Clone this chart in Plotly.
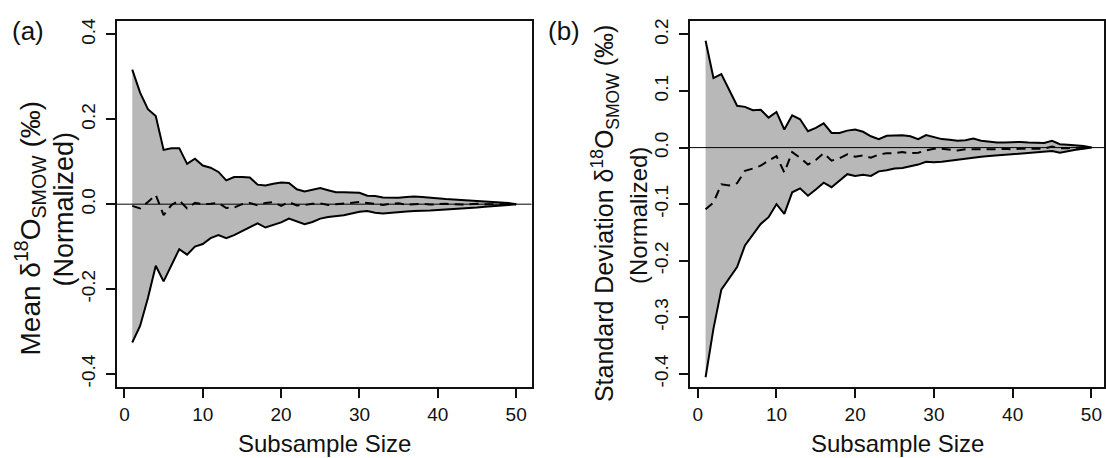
import plotly.graph_objects as go

W, H = 1106, 458

subsample = list(range(1, 51))

# Panel (a): mean, normalized
mean_upper = [0.317, 0.263, 0.224, 0.208, 0.128, 0.132, 0.132, 0.095, 0.107, 0.091,
              0.086, 0.076, 0.056, 0.064, 0.064, 0.063, 0.046, 0.044, 0.048, 0.051,
              0.050, 0.035, 0.030, 0.034, 0.038, 0.033, 0.028, 0.028, 0.028, 0.027,
              0.020, 0.019, 0.016, 0.015, 0.015, 0.017, 0.018, 0.017, 0.015, 0.014,
              0.012, 0.011, 0.010, 0.008, 0.007, 0.006, 0.005, 0.004, 0.003, 0.0]
mean_lower = [-0.326, -0.287, -0.221, -0.145, -0.182, -0.143, -0.106, -0.119, -0.100, -0.094,
              -0.080, -0.073, -0.080, -0.073, -0.063, -0.055, -0.045, -0.055, -0.049, -0.043,
              -0.034, -0.041, -0.047, -0.042, -0.034, -0.030, -0.028, -0.026, -0.022, -0.018,
              -0.016, -0.020, -0.022, -0.020, -0.019, -0.017, -0.016, -0.016, -0.015, -0.014,
              -0.013, -0.012, -0.010, -0.009, -0.008, -0.006, -0.005, -0.003, -0.002, 0.0]
mean_mid = [-0.004, -0.010, 0.005, 0.022, -0.026, -0.002, 0.009, -0.010, 0.003, 0.000,
            0.001, 0.003, -0.009, -0.008, 0.000, 0.003, -0.003, 0.003, 0.005, -0.004,
            0.005, -0.003, -0.002, 0.001, 0.002, -0.002, 0.000, 0.002, 0.004, 0.005,
            0.003, 0.000, -0.002, 0.001, 0.002, -0.001, 0.000, 0.001, -0.001, 0.000,
            0.001, 0.000, -0.001, 0.000, 0.001, 0.000, 0.000, 0.000, 0.000, 0.0]

# Panel (b): standard deviation, normalized
sd_upper = [0.189, 0.123, 0.130, 0.103, 0.074, 0.072, 0.066, 0.067, 0.053, 0.063,
            0.032, 0.057, 0.050, 0.029, 0.035, 0.043, 0.026, 0.026, 0.030, 0.032,
            0.028, 0.020, 0.015, 0.021, 0.021, 0.022, 0.020, 0.015, 0.022, 0.018,
            0.015, 0.014, 0.012, 0.013, 0.016, 0.012, 0.010, 0.009, 0.009, 0.010,
            0.010, 0.009, 0.008, 0.008, 0.012, 0.006, 0.005, 0.004, 0.003, 0.0]
sd_lower = [-0.406, -0.320, -0.251, -0.232, -0.211, -0.173, -0.153, -0.135, -0.123, -0.100,
            -0.117, -0.079, -0.072, -0.085, -0.074, -0.062, -0.070, -0.058, -0.047, -0.050,
            -0.048, -0.050, -0.042, -0.040, -0.037, -0.036, -0.033, -0.030, -0.025, -0.026,
            -0.025, -0.023, -0.021, -0.020, -0.018, -0.016, -0.015, -0.014, -0.013, -0.012,
            -0.011, -0.010, -0.009, -0.008, -0.006, -0.009, -0.006, -0.004, -0.002, 0.0]
sd_mid = [-0.109, -0.097, -0.065, -0.067, -0.063, -0.041, -0.037, -0.032, -0.023, -0.015,
          -0.044, -0.008, -0.018, -0.030, -0.022, -0.010, -0.023, -0.019, -0.012, -0.016,
          -0.014, -0.018, -0.012, -0.010, -0.010, -0.008, -0.010, -0.009, -0.005, -0.002,
          -0.002, -0.004, -0.005, -0.003, -0.003, -0.004, -0.003, -0.003, -0.002, -0.003,
          -0.002, -0.002, -0.002, -0.002, 0.002, -0.001, -0.001, 0.0, 0.0, 0.0]

x_ticks = [0, 10, 20, 30, 40, 50]
ya_ticks = [-0.4, -0.2, 0.0, 0.2, 0.4]
ya_labels = ["-0.4", "-0.2", "0.0", "0.2", "0.4"]
yb_ticks = [-0.4, -0.3, -0.2, -0.1, 0.0, 0.1, 0.2]
yb_labels = ["-0.4", "-0.3", "-0.2", "-0.1", "0.0", "0.1", "0.2"]

FILL = "#b8b8b8"
FONT = "Liberation Sans, Arial, sans-serif"

fig = go.Figure()

def add_panel(xa, ya, upper, lower, mid):
    fig.add_trace(go.Scatter(
        x=subsample + subsample[::-1], y=upper + lower[::-1],
        fill="toself", fillcolor=FILL, line=dict(width=0), mode="lines",
        hoverinfo="skip", showlegend=False, xaxis=xa, yaxis=ya))
    for s in (upper, lower):
        fig.add_trace(go.Scatter(x=subsample, y=s, mode="lines",
                                 line=dict(color="black", width=2),
                                 showlegend=False, xaxis=xa, yaxis=ya))
    fig.add_trace(go.Scatter(x=subsample, y=mid, mode="lines",
                             line=dict(color="black", width=2, dash="9px,6px"),
                             showlegend=False, xaxis=xa, yaxis=ya))

add_panel("x", "y", mean_upper, mean_lower, mean_mid)
add_panel("x2", "y2", sd_upper, sd_lower, sd_mid)

# zero reference lines
for xr, yr in (("x domain", "y"), ("x2 domain", "y2")):
    fig.add_shape(type="line", xref=xr, yref=yr, x0=0, x1=1, y0=0, y1=0,
                  line=dict(color="black", width=1), layer="above")

def px_x(p):
    return p / W

def px_y(p):
    return 1 - p / H

axis_common = dict(showgrid=False, zeroline=False, showline=True, mirror=True,
                   linecolor="#111", linewidth=2, ticks="outside", ticklen=9,
                   tickwidth=1.5, tickcolor="#111",
                   tickfont=dict(family=FONT, size=19, color="#111"))

ydom = [px_y(387), px_y(18)]
fig.update_layout(
    width=W, height=H, margin=dict(l=0, r=0, t=0, b=0),
    paper_bgcolor="white", plot_bgcolor="white", showlegend=False,
    xaxis=dict(domain=[px_x(117), px_x(532)], range=[-0.96, 51.96],
               tickvals=x_ticks, anchor="y", **axis_common),
    yaxis=dict(domain=ydom, range=[-0.432, 0.432], tickvals=ya_ticks,
               ticktext=ya_labels, tickangle=-90, anchor="x",
               ticklabelstandoff=3, **axis_common),
    xaxis2=dict(domain=[px_x(690.7), px_x(1105)], range=[-0.97, 51.6],
                tickvals=x_ticks, anchor="y2", **axis_common),
    yaxis2=dict(domain=ydom, range=[-0.424, 0.224], tickvals=yb_ticks,
                ticktext=yb_labels, tickangle=-90, anchor="x2",
                ticklabelstandoff=3, **axis_common),
)

def ann(text, x, y, size=24, angle=0):
    fig.add_annotation(text=text, x=px_x(x), y=px_y(y), xref="paper", yref="paper",
                       showarrow=False, textangle=angle, xanchor="center", yanchor="middle",
                       font=dict(family=FONT, size=size, color="#111"))

ann("(a)", 28, 28, size=26)
ann("(b)", 565, 28, size=26)
ann("Subsample Size", 324.5, 443, size=24)
ann("Subsample Size", 898, 443, size=24)
ann("Mean δ<sup>18</sup>O<sub>SMOW</sub> (‰)", 30, 226, size=28, angle=-90)
ann("(Normalized)", 64, 207, size=27, angle=-90)
ann("Standard Deviation δ<sup>18</sup>O<sub>SMOW</sub> (‰)", 605, 212, size=25, angle=-90)
ann("(Normalized)", 639, 214, size=24, angle=-90)

fig.write_html("out.html", config={"displayModeBar": False},
               post_script="document.body.style.margin='0';")
